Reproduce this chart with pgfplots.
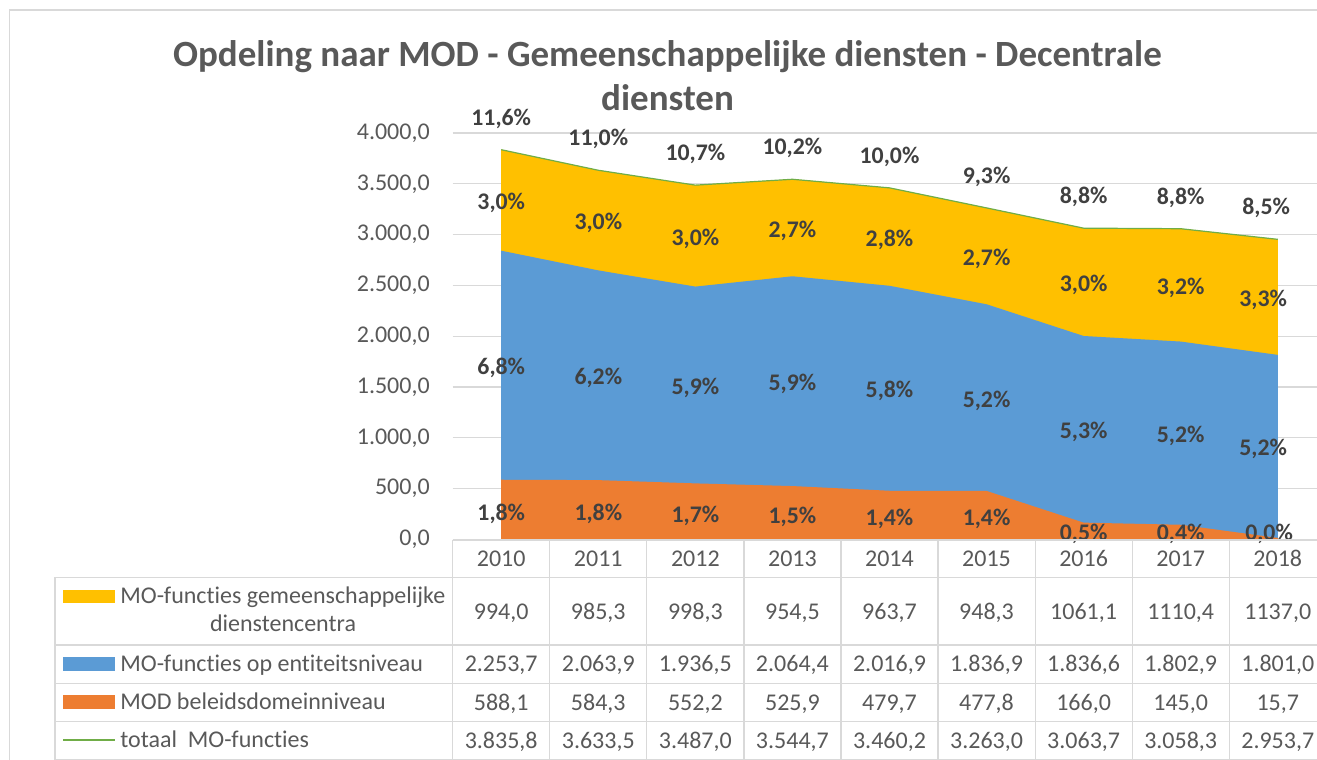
\documentclass[border=0pt]{standalone}
\usepackage{pgfplots}
\pgfplotsset{compat=1.18}
\usepackage{pgfplotstable}
\usepackage{fontspec}
\setmainfont{Carlito}[Ligatures=NoCommon]

\definecolor{cyel}{HTML}{FFC000}
\definecolor{cblue}{HTML}{5B9BD5}
\definecolor{cora}{HTML}{ED7D31}
\definecolor{cgreen}{HTML}{70AD47}
\definecolor{cgrid}{HTML}{D9D9D9}
\definecolor{ctxt}{HTML}{595959}
\definecolor{clab}{HTML}{404040}

\pgfkeys{/pgf/number format/assume math mode=true}

\pgfplotstableread{
year yel blue oran total ptot pyel pblue pora
2010 994.0 2253.7 588.1 3835.8 11.6 3.0 6.8 1.8
2011 985.3 2063.9 584.3 3633.5 11.0 3.0 6.2 1.8
2012 998.3 1936.5 552.2 3487.0 10.7 3.0 5.9 1.7
2013 954.5 2064.4 525.9 3544.7 10.2 2.7 5.9 1.5
2014 963.7 2016.9 479.7 3460.2 10.0 2.8 5.8 1.4
2015 948.3 1836.9 477.8 3263.0 9.3 2.7 5.2 1.4
2016 1061.1 1836.6 166.0 3063.7 8.8 3.0 5.3 0.5
2017 1110.4 1802.9 145.0 3058.3 8.8 3.2 5.2 0.4
2018 1137.0 1801.0 15.7 2953.7 8.5 3.3 5.2 0.0
}\data

\pgfplotsset{
  lab/.style={only marks, mark=none,
    nodes near coords={\pgfmathprintnumber[fixed,fixed zerofill,precision=1,use comma]{\pgfplotspointmeta}\%},
    every node near coord/.style={font=\bfseries\fontsize{11.9}{14}\selectfont, text=clab, inner sep=0pt, anchor=center}},
}

\begin{document}
\begin{tikzpicture}
\useasboundingbox (0,0) rectangle (658.5pt,-380pt);
\begin{axis}[
  at={(226.35pt,-269.75pt)}, anchor=south west,
  scale only axis, width=432.15pt, height=203.25pt,
  xmin=2009.5, xmax=2018.404, ymin=0, ymax=4000,
  ytick={0,500,...,4000},
  xtick=\empty,
  axis line style={draw=none},
  tick style={draw=none},
  major tick length=0pt,
  ymajorgrids, grid style={cgrid, line width=0.6pt},
  yticklabel style={font=\fontsize{12}{14}\selectfont, text=ctxt, anchor=east, inner sep=0pt, xshift=-11.3pt,
    /pgf/number format/fixed, /pgf/number format/fixed zerofill, /pgf/number format/precision=1,
    /pgf/number format/use comma, /pgf/number format/1000 sep={.}},
  scaled y ticks=false,
]
\addplot[fill=cyel, draw=none] table[x=year, y expr=\thisrow{oran}+\thisrow{blue}+\thisrow{yel}] {\data} \closedcycle;
\addplot[fill=cblue, draw=none] table[x=year, y expr=\thisrow{oran}+\thisrow{blue}] {\data} \closedcycle;
\addplot[fill=cora, draw=none] table[x=year, y=oran] {\data} \closedcycle;
\addplot[cgreen, line width=0.6pt] table[x=year, y=total] {\data};

\addplot[lab, point meta=\thisrow{ptot}, every node near coord/.append style={yshift=15.5pt}]
  table[x expr={\thisrow{year}-0.12*(\thisrow{year}>2017.5)}, y=total] {\data};
\addplot[lab, point meta=\thisrow{pyel}, every node near coord/.append style={yshift=-1.5pt}]
  table[x expr={\thisrow{year}-0.15*(\thisrow{year}>2017.5)}, y expr={\thisrow{oran}+\thisrow{blue}+\thisrow{yel}/2}] {\data};
\addplot[lab, point meta=\thisrow{pblue}, every node near coord/.append style={yshift=-1.5pt}]
  table[x expr={\thisrow{year}-0.15*(\thisrow{year}>2017.5)}, y expr={\thisrow{oran}+\thisrow{blue}/2}] {\data};
\addplot[lab, point meta=\thisrow{pora}, every node near coord/.append style={yshift=-2pt}]
  table[x expr={\thisrow{year}-0.09*(\thisrow{year}>2017.5)}, y expr={max(\thisrow{oran}/2,90)}] {\data};
\end{axis}

\begin{scope}[x=0.5pt, y=-0.5pt]
  % frame
  \draw[cgrid, line width=0.7pt] (9.5,800) -- (9.5,10) -- (1400,10);
  % title
  \node[anchor=base, font=\bfseries\fontsize{18.5}{22}\selectfont, text=ctxt, inner sep=0pt] at (667.5,66) {Opdeling naar MOD - Gemeenschappelijke diensten - Decentrale};
  \node[anchor=base, font=\bfseries\fontsize{18.5}{22}\selectfont, text=ctxt, inner sep=0pt] at (667.5,110) {diensten};
  % table grid
  \begin{scope}[cgrid, line width=0.6pt]
    \draw (452.7,540) -- (1400,540);
    \foreach \yy in {577.3,645,683.3,721.5,759.3} \draw (55,\yy) -- (1400,\yy);
    \draw (55,577.3) -- (55,800);
    \foreach \k in {0,...,8} \draw (452.7+97.07*\k,540) -- (452.7+97.07*\k,800);
  \end{scope}
  % legend keys
  \fill[cyel] (63,589.5) rectangle (115,602.5);
  \fill[cblue] (63,657) rectangle (115,670.5);
  \fill[cora] (63,695) rectangle (115,708.5);
  \draw[cgreen, line width=0.6pt] (63,740) -- (115,740);
  % legend texts
  \tikzset{lt/.style={anchor=base west, font=\fontsize{12}{14.2}\selectfont, text=ctxt, inner sep=0pt}}
  \node[lt] at (120,603.3) {MO-functies gemeenschappelijke};
  \node[anchor=base, font=\fontsize{12}{14.2}\selectfont, text=ctxt, inner sep=0pt] at (283,631.7) {dienstencentra};
  \node[lt] at (120,671) {MO-functies op entiteitsniveau};
  \node[lt] at (120,709.3) {MOD beleidsdomeinniveau};
  \node[lt] at (120,747.5) {totaal\ \ MO-functies};
  % table values
  \tikzset{tt/.style={anchor=base, font=\fontsize{12}{14}\selectfont, text=ctxt, inner sep=0pt}}
  \foreach \i in {0,...,8}{
    \pgfmathsetmacro\cx{501.2+97.07*\i}
    \pgfplotstablegetelem{\i}{year}\of\data
    \node[tt] at (\cx,566.7) {\pgfplotsretval};
    \pgfplotstablegetelem{\i}{yel}\of\data
    \node[tt] at (\cx,619.3) {\pgfmathprintnumber[fixed,fixed zerofill,precision=1,use comma,1000 sep={}]{\pgfplotsretval}};
    \pgfplotstablegetelem{\i}{blue}\of\data
    \node[tt] at (\cx,671.7) {\pgfmathprintnumber[fixed,fixed zerofill,precision=1,use comma,1000 sep={.}]{\pgfplotsretval}};
    \pgfplotstablegetelem{\i}{oran}\of\data
    \node[tt] at (\cx,710) {\pgfmathprintnumber[fixed,fixed zerofill,precision=1,use comma,1000 sep={.}]{\pgfplotsretval}};
    \pgfplotstablegetelem{\i}{total}\of\data
    \node[tt] at (\cx,748.7) {\pgfmathprintnumber[fixed,fixed zerofill,precision=1,use comma,1000 sep={.}]{\pgfplotsretval}};
  }
\end{scope}
\end{tikzpicture}
\end{document}
